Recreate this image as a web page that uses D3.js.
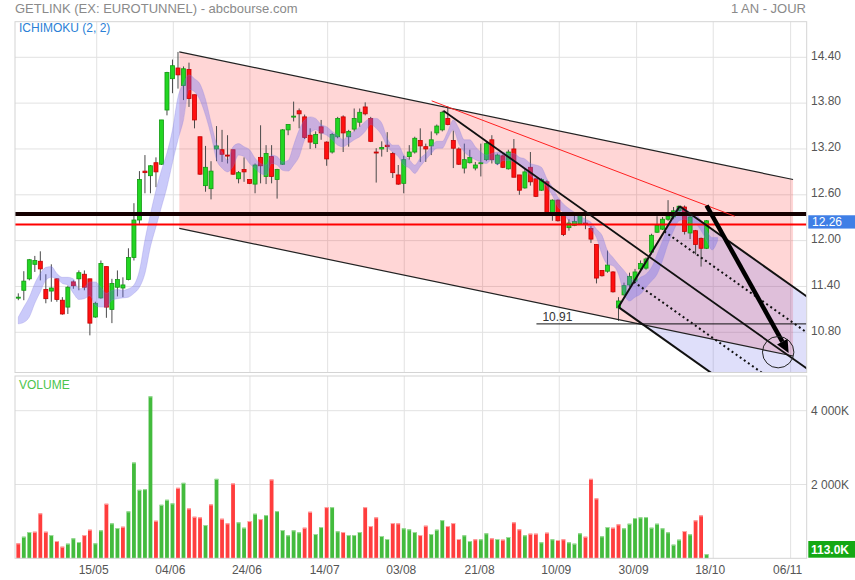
<!DOCTYPE html>
<html>
<head>
<meta charset="utf-8">
<script src="https://cdn.jsdelivr.net/npm/d3@7"></script>
<style>
  body { margin: 0; background: #fff; }
  svg { display: block; font-family: "Liberation Sans", Arial, sans-serif; }
</style>
</head>
<body>
<svg id="chart" width="855" height="580"></svg>
<script>
// daily bars, index 0 = first session shown
const opens = [11.25,11.35,11.50,11.69,11.73,11.36,11.34,11.50,11.22,11.13,
  11.46,11.50,11.56,11.50,11.00,11.25,11.66,11.10,11.39,11.38,
  11.49,11.78,12.27,12.91,12.85,13.02,13.00,13.71,14.12,14.26,
  14.03,14.24,13.91,13.36,12.72,12.68,13.20,13.19,13.12,13.19,
  12.81,12.93,12.80,12.74,13.09,12.84,13.10,12.80,13.00,13.45,
  13.62,13.70,13.62,13.38,13.27,13.49,13.29,13.16,13.36,13.62,
  13.36,13.46,13.55,13.75,13.60,13.16,13.20,13.25,13.14,12.86,
  12.75,13.10,13.16,13.31,13.23,13.24,13.41,13.45,13.60,13.31,
  13.20,12.95,13.02,12.95,13.02,13.06,13.32,13.01,13.11,12.94,
  13.20,12.86,12.69,12.96,12.81,12.66,12.77,12.37,12.53,12.33,
  12.17,12.20,12.22,12.23,12.16,11.95,11.61,11.60,11.59,11.12,
  11.29,11.42,11.47,11.63,11.64,11.85,12.11,12.15,12.28,12.31,
  12.39,12.44,12.10,12.13,12.03,11.90];
const highs = [11.31,11.60,11.76,11.80,11.86,11.56,11.69,11.51,11.26,11.41,
  11.48,11.61,11.61,11.50,11.20,11.74,11.66,11.50,11.61,11.52,
  11.90,12.49,12.91,13.12,12.99,13.09,13.58,14.21,14.37,14.47,
  14.28,14.33,13.91,13.36,13.24,13.04,13.50,13.45,13.38,13.19,
  12.91,13.09,12.80,13.01,13.51,13.25,13.25,12.94,13.46,13.52,
  13.82,13.73,13.65,13.47,13.43,13.58,13.30,13.41,13.62,13.64,
  13.45,13.73,13.73,13.81,13.62,13.21,13.30,13.42,13.16,12.99,
  13.11,13.25,13.36,13.47,13.27,13.43,13.52,13.70,13.76,13.44,
  13.22,13.27,13.19,13.03,13.27,13.30,13.38,13.14,13.13,13.19,
  13.33,12.86,12.94,13.16,12.82,12.82,12.79,12.54,12.54,12.34,
  12.28,12.33,12.35,12.33,12.19,11.95,11.61,11.87,11.60,11.26,
  11.45,11.58,11.63,11.74,11.78,12.09,12.32,12.31,12.53,12.44,
  12.46,12.46,12.32,12.14,12.04,12.27];
const lows = [11.22,11.22,11.48,11.59,11.48,11.18,11.20,11.20,11.03,11.04,
  11.37,11.35,11.35,10.76,10.99,11.24,10.99,10.92,11.27,11.26,
  11.48,11.74,12.22,12.62,12.62,12.70,12.99,13.64,13.93,13.99,
  13.84,13.75,13.47,12.86,12.64,12.54,13.04,13.03,13.01,12.86,
  12.75,12.77,12.74,12.62,12.75,12.74,12.75,12.55,12.99,13.38,
  13.56,13.47,13.33,13.20,13.21,13.32,12.98,13.14,13.34,13.16,
  13.23,13.43,13.49,13.64,13.29,12.76,13.10,13.16,12.82,12.73,
  12.62,13.06,13.14,13.03,13.03,13.12,13.38,13.43,13.51,12.95,
  12.99,12.88,13.01,12.92,12.84,13.04,13.01,12.99,12.95,12.93,
  12.83,12.60,12.68,12.72,12.57,12.65,12.36,12.26,12.25,12.06,
  12.13,12.19,12.21,12.15,11.97,11.44,11.53,11.58,11.32,10.95,
  11.28,11.39,11.45,11.61,11.62,11.82,12.10,12.14,12.26,12.28,
  12.38,12.08,12.02,11.82,11.66,11.89];
const closes = [11.26,11.47,11.75,11.74,11.63,11.24,11.38,11.23,11.04,11.39,
  11.41,11.58,11.39,10.92,11.18,11.70,11.13,11.44,11.49,11.42,
  11.78,12.27,12.80,12.89,12.98,12.90,13.58,14.20,14.29,14.17,
  14.25,13.86,13.58,12.87,12.96,12.91,13.24,13.13,13.11,12.87,
  12.89,12.90,12.75,12.99,12.98,13.14,12.84,12.93,13.45,13.52,
  13.63,13.66,13.35,13.29,13.39,13.41,13.07,13.39,13.60,13.41,
  13.43,13.60,13.68,13.66,13.30,13.15,13.22,13.23,12.89,12.74,
  13.06,13.16,13.34,13.24,13.20,13.32,13.50,13.68,13.52,13.21,
  13.00,13.06,13.09,12.99,13.02,13.27,13.06,13.12,12.96,13.16,
  12.83,12.66,12.90,12.77,12.58,12.80,12.37,12.53,12.26,12.08,
  12.23,12.25,12.33,12.21,12.02,11.51,11.54,11.68,11.33,11.21,
  11.41,11.53,11.59,11.70,11.76,12.07,12.20,12.28,12.32,12.39,
  12.45,12.12,12.31,11.95,11.90,12.26];
// volume in thousands
const volumes = [405,585,712,720,1216,720,630,468,315,396,
  540,441,630,775,405,757,1478,946,820,856,
  1270,2595,1856,1874,4388,1018,1450,1586,1487,1910,
  2045,1351,1126,1108,901,1459,2153,1072,946,2027,
  973,829,1009,1207,1063,1171,2135,1279,766,622,
  757,703,829,1261,658,847,1387,1387,730,712,
  630,630,712,1387,874,1108,604,523,955,946,
  811,784,712,630,883,658,775,1036,874,955,
  523,622,468,514,514,676,540,523,505,577,
  973,784,622,667,667,433,694,514,496,514,
  433,396,676,585,2153,1622,595,847,829,919,
  811,937,1090,1108,1117,829,937,811,703,369,
  505,739,649,1027,1162,113];
// ichimoku cloud edges, runs two sessions past the last bar
const cloudTop = [11.00,11.13,11.26,11.44,11.57,11.65,11.66,11.57,11.52,11.52,
  11.50,11.37,11.39,11.46,11.46,11.39,11.31,11.35,11.36,11.35,
  11.37,11.42,11.61,12.01,12.35,12.66,12.92,13.15,13.45,13.88,
  14.06,14.17,14.12,14.05,13.85,13.55,13.27,13.16,13.05,13.23,
  13.27,13.23,13.19,13.08,13.01,12.99,13.12,13.10,13.03,13.05,
  13.25,13.45,13.58,13.62,13.60,13.52,13.49,13.43,13.38,13.32,
  13.39,13.43,13.49,13.56,13.60,13.60,13.54,13.34,13.25,13.25,
  13.12,13.06,12.99,13.08,13.14,13.23,13.30,13.30,13.43,13.58,
  13.47,13.32,13.32,13.23,13.16,13.12,13.14,13.16,13.16,13.14,
  13.14,13.09,13.07,13.01,12.99,12.96,12.81,12.70,12.57,12.48,
  12.42,12.37,12.33,12.28,12.24,12.15,12.07,11.87,11.78,11.69,
  11.61,11.52,11.47,11.52,11.56,11.65,11.82,12.00,12.18,12.35,
  12.44,12.42,12.37,12.35,12.26,12.13,12.04,12.04];
const cloudBot = [10.91,10.93,11.00,11.18,11.33,11.48,11.52,11.50,11.44,11.42,
  11.31,11.23,11.24,11.28,11.15,11.13,11.13,11.22,11.24,11.25,
  11.26,11.31,11.39,11.57,11.92,12.18,12.44,12.70,13.02,13.32,
  13.58,13.98,13.95,13.84,13.64,13.38,13.06,12.95,12.90,12.97,
  13.12,13.10,13.01,12.94,12.88,12.86,13.01,12.99,12.92,12.91,
  12.99,13.10,13.32,13.41,13.45,13.41,13.38,13.32,13.25,13.23,
  13.27,13.32,13.36,13.43,13.52,13.47,13.38,13.23,13.16,13.10,
  12.99,12.95,12.88,12.97,13.06,13.14,13.21,13.21,13.34,13.45,
  13.27,13.16,13.10,13.06,13.03,13.01,13.06,12.99,13.05,13.05,
  13.03,12.99,12.92,12.85,12.81,12.79,12.70,12.59,12.44,12.37,
  12.26,12.24,12.24,12.22,12.15,12.04,11.82,11.69,11.67,11.56,
  11.30,11.21,11.26,11.30,11.39,11.47,11.56,11.74,11.96,12.13,
  12.26,12.28,12.24,12.22,12.13,12.00,11.88,12.00];

const dateLabels = ['15/05', '04/06', '24/06', '14/07', '03/08', '21/08', '10/09', '30/09', '18/10', '06/11'];
const dateIdx = [14.24, 28.15, 42.07, 56.18, 70.09, 84.32, 98.24, 112.29, 126.2, 140.26];
const priceTicks = [10.8, 11.4, 12.0, 12.6, 13.2, 13.8, 14.4];
const volTicks = [2000, 4000];

// user drawings, as [bar index, price]
const channelTop = [[29.24, 14.47], [140.7, 12.80]];
const channelDepth = 2.31;
const redTrend = [[75.07, 13.83], [130.1, 12.32]];
const pitchfork = [[77.2, 13.70], [109.0, 11.13], [120.1, 12.45]];
const arrowPts = [[125.0, 12.46], [139.9, 10.53]];
const circleAt = [138.0, 10.54];
const blackLevel = 12.35;
const redLevel = 12.21;
const lowMark = { from: 94.1, price: 10.91 };

const svg = d3.select('#chart');
const L = 15, R = 806.7;
const pTop = 21.7, pBot = 372.5, vTop = 376, vBot = 558.3;

const x = d3.scaleLinear().domain([0, 125]).range([18.3, 706.6]);
const y = d3.scaleLinear().domain([10.8, 14.4]).range([332.3, 57.3]);
const yv = d3.scaleLinear().domain([0, 4000]).range([vBot, 410.7]);
const pt = ([i, p]) => [x(i), y(p)];

// titles
svg.append('text').attr('x', 15).attr('y', 13).attr('font-size', 13).attr('fill', '#8a8a8a')
  .text('GETLINK (EX: EUROTUNNEL) - abcbourse.com');
svg.append('text').attr('x', 806).attr('y', 13).attr('font-size', 13).attr('fill', '#8a8a8a')
  .attr('text-anchor', 'end').text('1 AN - JOUR');

// grid
const grid = svg.append('g').attr('stroke', '#e2e2e2').attr('stroke-width', 1);
[[pTop, pBot], [vTop, vBot]].forEach(([t, b]) => {
  grid.selectAll(null).data(dateIdx).join('line')
    .attr('x1', d => x(d)).attr('x2', d => x(d)).attr('y1', t).attr('y2', b);
});
grid.selectAll(null).data(priceTicks).join('line')
  .attr('x1', L).attr('x2', R).attr('y1', d => y(d)).attr('y2', d => y(d));
grid.selectAll(null).data(volTicks).join('line')
  .attr('x1', L).attr('x2', R).attr('y1', d => yv(d)).attr('y2', d => yv(d));

svg.append('clipPath').attr('id', 'pclip').append('rect')
  .attr('x', L).attr('y', pTop).attr('width', R - L).attr('height', pBot - pTop);
const gp = svg.append('g').attr('clip-path', 'url(#pclip)');

// descending channel (pink)
const chTop = channelTop.map(pt);
const chBot = channelTop.map(([i, p]) => pt([i, p - channelDepth]));
gp.append('path').attr('d', d3.line()([chTop[0], chTop[1], chBot[1], chBot[0]]) + 'Z')
  .attr('fill', '#ff0000').attr('fill-opacity', 0.16);

// pitchfork geometry
const [A, B, C] = pitchfork.map(pt);
const M = [(B[0] + C[0]) / 2, (B[1] + C[1]) / 2];
const len = Math.hypot(M[0] - A[0], M[1] - A[1]);
const dir = [(M[0] - A[0]) / len, (M[1] - A[1]) / len];
const far = p => [p[0] + dir[0] * 700, p[1] + dir[1] * 700];
const lerp = (p, q, t) => [p[0] + (q[0] - p[0]) * t, p[1] + (q[1] - p[1]) * t];

gp.append('path').attr('d', d3.line()([B, C, far(C), far(B)]) + 'Z')
  .attr('fill', '#6f6fe6').attr('fill-opacity', 0.22);

// candles
const idx = d3.range(closes.length);
const up = i => closes[i] >= opens[i];
gp.append('g').selectAll('line').data(idx).join('line')
  .attr('x1', i => x(i)).attr('x2', i => x(i))
  .attr('y1', i => y(highs[i])).attr('y2', i => y(lows[i]))
  .attr('stroke', '#4a4a4a').attr('stroke-width', 1);
gp.append('g').selectAll('rect').data(idx).join('rect')
  .attr('x', i => x(i) - 2).attr('width', 4)
  .attr('y', i => y(Math.max(opens[i], closes[i])))
  .attr('height', i => Math.max(1, Math.abs(y(opens[i]) - y(closes[i]))))
  .attr('fill', i => up(i) ? '#22d622' : '#ff1010')
  .attr('stroke', i => up(i) ? '#129a12' : '#c40000').attr('stroke-width', 0.8);

// ichimoku cloud
const cloud = d3.area()
  .x((d, i) => x(i)).y0((d, i) => y(cloudBot[i])).y1(d => y(d))
  .curve(d3.curveMonotoneX);
gp.append('path').datum(cloudTop).attr('d', cloud)
  .attr('fill', '#6464f0').attr('fill-opacity', 0.34)
  .attr('stroke', '#8c80e0').attr('stroke-opacity', 0.35).attr('stroke-width', 0.8);

// horizontal levels
gp.append('line').attr('x1', L).attr('x2', R).attr('y1', y(blackLevel)).attr('y2', y(blackLevel))
  .attr('stroke', '#140000').attr('stroke-width', 4);
gp.append('line').attr('x1', L).attr('x2', R).attr('y1', y(redLevel)).attr('y2', y(redLevel))
  .attr('stroke', '#ff0000').attr('stroke-width', 2);

// channel borders and red trend line
const seg = (p, q, color, w, dash) => gp.append('line')
  .attr('x1', p[0]).attr('y1', p[1]).attr('x2', q[0]).attr('y2', q[1])
  .attr('stroke', color).attr('stroke-width', w).attr('stroke-dasharray', dash || null);
seg(chTop[0], chTop[1], '#222', 1.2);
seg(chBot[0], chBot[1], '#222', 1.2);
seg(pt(redTrend[0]), pt(redTrend[1]), '#ff2020', 1);

// pitchfork lines
seg(B, C, '#111', 2);
seg(A, far(A), '#111', 1.8);
seg(B, far(B), '#111', 2);
seg(C, far(C), '#111', 2);
[0.25, 0.75].forEach(t => { const q = lerp(B, C, t); seg(q, far(q), '#111', 2, '2,3'); });

// 10.91 low marker
seg([x(lowMark.from), y(lowMark.price)], [R, y(lowMark.price)], '#111', 1);
svg.append('text').attr('x', x(lowMark.from) + 6).attr('y', y(lowMark.price) - 2.5)
  .attr('font-size', 12).attr('fill', '#333').text(lowMark.price.toFixed(2));

// target arrow and circle
const [S, T] = arrowPts.map(pt);
const ad = Math.hypot(T[0] - S[0], T[1] - S[1]);
const u = [(T[0] - S[0]) / ad, (T[1] - S[1]) / ad];
const headLen = 13, headW = 6;
const baseP = [T[0] - u[0] * headLen, T[1] - u[1] * headLen];
seg(S, baseP, '#000', 4.5);
gp.append('path').attr('d', d3.line()([
  T,
  [baseP[0] - u[1] * headW, baseP[1] + u[0] * headW],
  [baseP[0] + u[1] * headW, baseP[1] - u[0] * headW]
]) + 'Z').attr('fill', '#000');
gp.append('circle').attr('cx', x(circleAt[0])).attr('cy', y(circleAt[1])).attr('r', 15.7)
  .attr('fill', 'none').attr('stroke', '#222').attr('stroke-width', 1);

// volume bars, coloured by close vs previous close
const volUp = i => i > 0 && closes[i] > closes[i - 1];
const gv = svg.append('g');
gv.selectAll('rect.bar').data(idx).join('rect').attr('class', 'bar')
  .attr('x', i => x(i) - 1.9).attr('width', 3.8)
  .attr('y', i => yv(volumes[i])).attr('height', i => vBot - yv(volumes[i]))
  .attr('fill', i => volUp(i) ? '#43bb3d' : '#ff3d3d');
gv.selectAll('rect.cap').data(idx).join('rect').attr('class', 'cap')
  .attr('x', i => x(i) - 1.9).attr('width', 3.8)
  .attr('y', i => yv(volumes[i])).attr('height', 1)
  .attr('fill', i => volUp(i) ? '#9fdc9b' : '#ffa8a8');

// panel borders
svg.append('rect').attr('x', L).attr('y', pTop).attr('width', R - L).attr('height', pBot - pTop)
  .attr('fill', 'none').attr('stroke', '#d4d4d4');
svg.append('rect').attr('x', L).attr('y', vTop).attr('width', R - L).attr('height', vBot - vTop)
  .attr('fill', 'none').attr('stroke', '#d4d4d4');

// panel titles
svg.append('text').attr('x', 19).attr('y', 32).attr('font-size', 12).attr('fill', '#2a7fd6')
  .text('ICHIMOKU (2, 2)');
svg.append('text').attr('x', 19).attr('y', 389).attr('font-size', 12).attr('fill', '#4cc44c')
  .text('VOLUME');

// right axes
svg.append('g').selectAll('text').data(priceTicks).join('text')
  .attr('x', 811).attr('y', d => y(d) + 2.3).attr('font-size', 12).attr('fill', '#555')
  .text(d => d.toFixed(2));
const fmtK = d3.formatLocale({ decimal: '.', thousands: ' ', grouping: [3], currency: ['', ''] }).format(',');
svg.append('g').selectAll('text').data(volTicks).join('text')
  .attr('x', 811).attr('y', d => yv(d) + 4).attr('font-size', 12).attr('fill', '#555')
  .text(d => fmtK(d) + 'K');

// last value tags
const lastClose = closes[closes.length - 1];
const lastVol = volumes[volumes.length - 1];
svg.append('rect').attr('x', 808.3).attr('y', y(lastClose) - 5.5).attr('width', 46.7).attr('height', 13.3)
  .attr('fill', '#3f7fe6');
svg.append('text').attr('x', 812).attr('y', y(lastClose) + 5.5).attr('font-size', 12).attr('fill', '#fff')
  .text(lastClose.toFixed(2));
svg.append('rect').attr('x', 808.3).attr('y', 541).attr('width', 46.7).attr('height', 16.7)
  .attr('fill', '#14a814');
svg.append('text').attr('x', 811).attr('y', 554).attr('font-size', 12).attr('font-weight', 600)
  .attr('fill', '#fff').text(lastVol.toFixed(1) + 'K');

// date axis
svg.append('g').selectAll('text').data(dateIdx).join('text')
  .attr('x', d => x(d) - 3).attr('y', 574).attr('text-anchor', 'middle')
  .attr('font-size', 12).attr('fill', '#555')
  .text((d, k) => dateLabels[k]);
</script>
</body>
</html>
